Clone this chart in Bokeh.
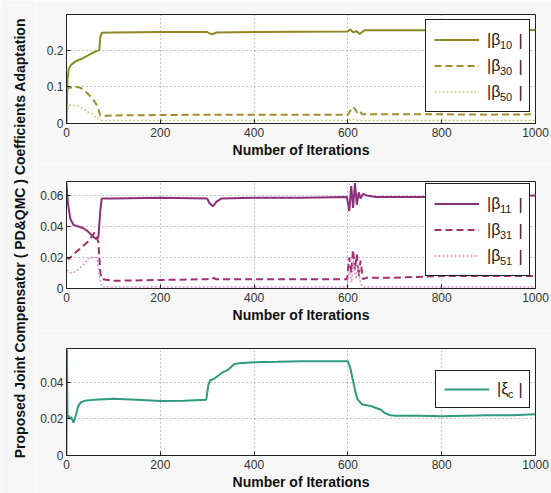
import math
from bokeh.plotting import figure
from bokeh.layouts import row, column
from bokeh.models import Range1d, FixedTicker, Legend, LegendItem, Label
from bokeh.embed import file_html
from bokeh.resources import INLINE

# ---------------- data ----------------
x_ticks = [0, 200, 400, 600, 800, 1000]

# panel 1
it_b10 = [0, 2, 5, 10, 20, 30, 45, 60, 70, 72, 75, 100, 200, 300, 310, 320, 400, 500, 600, 605, 612, 618, 625, 635, 700, 800, 900, 1000]
b10 = [0, 0.12, 0.15, 0.16, 0.17, 0.175, 0.185, 0.195, 0.2, 0.235, 0.247, 0.248, 0.249, 0.249, 0.243, 0.248, 0.249, 0.25, 0.251, 0.256, 0.248, 0.252, 0.244, 0.254, 0.254, 0.254, 0.254, 0.255]
it_b30 = [0, 3, 10, 20, 30, 40, 50, 60, 66, 72, 75, 100, 200, 300, 400, 500, 600, 605, 610, 615, 620, 625, 630, 700, 800, 900, 1000]
b30 = [0.09, 0.097, 0.098, 0.1, 0.097, 0.088, 0.075, 0.06, 0.047, 0.022, 0.021, 0.022, 0.023, 0.024, 0.024, 0.024, 0.024, 0.035, 0.045, 0.04, 0.03, 0.035, 0.025, 0.025, 0.025, 0.024, 0.025]
it_b50 = [0, 5, 12, 25, 35, 45, 55, 65, 72, 76, 100, 200, 400, 600, 610, 620, 630, 800, 1000]
b50 = [0.03, 0.05, 0.05, 0.048, 0.04, 0.032, 0.025, 0.015, 0.01, 0.008, 0.008, 0.008, 0.008, 0.008, 0.012, 0.009, 0.008, 0.008, 0.008]

# panel 2
it_b11 = [0, 3, 8, 15, 25, 35, 45, 55, 62, 68, 72, 75, 100, 200, 300, 305, 312, 320, 330, 400, 500, 598, 603, 607, 611, 615, 619, 623, 627, 632, 640, 660, 700, 800, 900, 1000]
b11 = [0.068, 0.055, 0.045, 0.041, 0.04, 0.039, 0.037, 0.034, 0.032, 0.033, 0.05, 0.058, 0.058, 0.0585, 0.058, 0.055, 0.053, 0.056, 0.058, 0.0585, 0.0585, 0.059, 0.05, 0.066, 0.052, 0.068, 0.054, 0.062, 0.058, 0.061, 0.06, 0.059, 0.059, 0.059, 0.0595, 0.06]
it_b31 = [0, 5, 15, 30, 45, 60, 68, 72, 76, 100, 200, 300, 310, 320, 400, 500, 598, 603, 607, 611, 615, 619, 623, 627, 632, 640, 700, 800, 900, 1000]
b31 = [0.02, 0.019, 0.022, 0.026, 0.03, 0.036, 0.03, 0.01, 0.006, 0.005, 0.0055, 0.006, 0.007, 0.006, 0.006, 0.006, 0.006, 0.02, 0.01, 0.025, 0.012, 0.022, 0.008, 0.018, 0.006, 0.007, 0.007, 0.008, 0.008, 0.008]
it_b51 = [0, 10, 20, 35, 50, 65, 72, 76, 200, 400, 598, 603, 608, 612, 617, 622, 627, 632, 700, 1000]
b51 = [0.012, 0.01, 0.011, 0.015, 0.02, 0.02, 0.005, 0.001, 0.001, 0.001, 0.001, 0.012, 0.004, 0.018, 0.006, 0.015, 0.003, 0.001, 0.001, 0.001]

# panel 3
it_xi = [0, 1, 2, 4, 7, 10, 15, 20, 25, 30, 40, 60, 100, 150, 200, 250, 298, 302, 306, 315, 330, 345, 358, 370, 400, 450, 500, 560, 600, 605, 610, 615, 620, 630, 640, 650, 660, 670, 680, 690, 700, 750, 800, 900, 950, 1000]
xi = [0, 0.058, 0.02, 0.022, 0.02, 0.021, 0.018, 0.022, 0.027, 0.029, 0.03, 0.0305, 0.031, 0.0305, 0.0298, 0.030, 0.0305, 0.038, 0.041, 0.042, 0.045, 0.047, 0.05, 0.0505, 0.051, 0.0512, 0.0515, 0.0515, 0.0515, 0.048, 0.042, 0.036, 0.031, 0.028, 0.0275, 0.027, 0.026, 0.025, 0.023, 0.022, 0.0218, 0.0218, 0.0215, 0.022, 0.022, 0.0225]

y1_ticks = [0, 0.1, 0.2]
y1_labels = ["0", "0.1", "0.2"]
y2_ticks = [0, 0.02, 0.04, 0.06]
y2_labels = ["0", "0.02", "0.04", "0.06"]
y3_ticks = [0, 0.02, 0.04]
y3_labels = ["0", "0.02", "0.04"]

# legend texts: symbol and subscript
sym1 = ["β", "β", "β"]
sub1 = ["10", "30", "50"]
sym2 = ["β", "β", "β"]
sub2 = ["11", "31", "51"]
sym3 = ["ξ"]
sub3 = ["c"]

y_title = "Proposed Joint Compensator ( PD&QMC ) Coefficients Adaptation"
x_title = "Number of Iterations"

# ---------------- styling ----------------
FONT = "Liberation Sans"
BG = "#f7f7f7"
NB = "\u00a0"


def make_panel(height, top, bottom, ymax, yticks, ylabels):
    p = figure(width=516, height=height, x_range=Range1d(0, 1000), y_range=Range1d(0, ymax),
               output_backend="svg", toolbar_location=None,
               min_border_left=31, min_border_right=16, min_border_top=top, min_border_bottom=bottom,
               background_fill_color="white", border_fill_color=BG,
               outline_line_color="#222222", outline_line_width=1)
    p.xaxis.ticker = FixedTicker(ticks=x_ticks)
    p.yaxis.ticker = FixedTicker(ticks=yticks)
    p.yaxis.major_label_overrides = {v: s for v, s in zip(yticks, ylabels)}
    for ax in (p.xaxis[0], p.yaxis[0]):
        ax.major_tick_in = 4
        ax.major_tick_out = 0
        ax.minor_tick_line_color = None
        ax.axis_line_color = "#222222"
        ax.major_tick_line_color = "#222222"
        ax.major_label_text_font = FONT
        ax.major_label_text_font_size = "12px"
        ax.major_label_text_color = "#333333"
    p.xaxis.major_label_standoff = 4
    p.yaxis.major_label_standoff = 3
    p.xaxis.axis_label = x_title
    p.xaxis.axis_label_text_font = FONT
    p.xaxis.axis_label_text_font_style = "bold"
    p.xaxis.axis_label_text_font_size = "14px"
    p.xaxis.axis_label_text_color = "#111111"
    p.xaxis.axis_label_standoff = 2
    p.xgrid.ticker = FixedTicker(ticks=x_ticks[1:-1])
    p.ygrid.ticker = FixedTicker(ticks=yticks[1:])
    p.grid.grid_line_color = "#8a8a8a"
    p.grid.grid_line_dash = "1 3"
    p.grid.grid_line_width = 1
    return p


PAD = 8
GLYPH_W = 45
STAND = 8


def legend(labels, renderers, loc, size, label_h, spacing, label_w, framed):
    lg = Legend(items=[LegendItem(label=s, renderers=[r]) for s, r in zip(labels, renderers)],
                location=loc, border_line_color="#222222", border_line_width=1,
                border_line_alpha=1.0 if framed else 0.0,
                background_fill_color="white", background_fill_alpha=1.0 if framed else 0.0,
                label_text_font=FONT, label_text_font_size=size, label_text_color="#222222",
                glyph_width=GLYPH_W, glyph_height=label_h, label_height=label_h, spacing=spacing,
                padding=PAD, margin=0, label_standoff=STAND, label_width=label_w)
    return lg


def add_legend(p, renderers, ghost, syms, subs, loc, label_h, spacing, label_w, dx_sub, dx_close, dy_sub):
    # framed legend: sample lines and "|symbol"
    p.add_layout(legend(["|" + s for s in syms], renderers, loc, "16px", label_h, spacing, label_w, True))
    # same layout with invisible samples: subscripts (shifted right and down) and closing bars
    ghosts = [ghost] * len(syms)
    p.add_layout(legend(subs, ghosts, (loc[0] + dx_sub, loc[1] - dy_sub), "11px", label_h, spacing, label_w, False))
    p.add_layout(legend([NB + "|"] * len(syms), ghosts, (loc[0] + dx_close, loc[1]), "16px", label_h, spacing, label_w, False))


# panel 1
p1 = make_panel(163, 14, 40, 0.297, y1_ticks, y1_labels)
r10 = p1.line(it_b10, b10, line_color="#8c8a22", line_width=2)
r30 = p1.line(it_b30, b30, line_color="#a08f2c", line_width=2, line_dash="7 4")
r50 = p1.line(it_b50, b50, line_color="#cfcb7a", line_width=1.5, line_dash="2 2")
g1 = p1.line(it_b10, b10, line_color="#222222", line_alpha=0.0)
add_legend(p1, [r10, r30, r50], g1, sym1, sub1, (359, 11), 23, 3, 34, 14, 28, 4)

# panel 2
p2 = make_panel(167, 18, 42, 0.069, y2_ticks, y2_labels)
r11 = p2.line(it_b11, b11, line_color="#8e2f7c", line_width=2)
r31 = p2.line(it_b31, b31, line_color="#a3306f", line_width=2, line_dash="7 4")
r51 = p2.line(it_b51, b51, line_color="#dc93c4", line_width=1.5, line_dash="2 2")
g2 = p2.line(it_b11, b11, line_color="#222222", line_alpha=0.0)
add_legend(p2, [r11, r31, r51], g2, sym2, sub2, (359, 12), 23, 3, 34, 14, 28, 4)

# panel 3
p3 = make_panel(163, 18, 38, 0.0585, y3_ticks, y3_labels)
rxi = p3.line(it_xi, xi, line_color="#2f9b7f", line_width=2)
g3 = p3.line(it_xi, xi, line_color="#222222", line_alpha=0.0)
add_legend(p3, [rxi], g3, sym3, sub3, (369, 47), 20, 0, 24, 12, 18, 4)

# y title panel
lab = figure(width=35, height=493, x_range=Range1d(0, 1), y_range=Range1d(0, 1),
             output_backend="svg", toolbar_location=None, min_border=0,
             x_axis_location=None, y_axis_location=None, outline_line_color=None,
             border_fill_color=BG, background_fill_color=BG)
lab.grid.visible = False
lab.add_layout(Label(x=0.57, y=0.518, text=y_title, angle=math.pi / 2,
                     text_align="center", text_baseline="middle", text_font=FONT,
                     text_font_style="bold", text_font_size="14px", text_color="#111111"))

layout = row(lab, column(p1, p2, p3))
open("out.html", "w").write(file_html(layout, INLINE))
